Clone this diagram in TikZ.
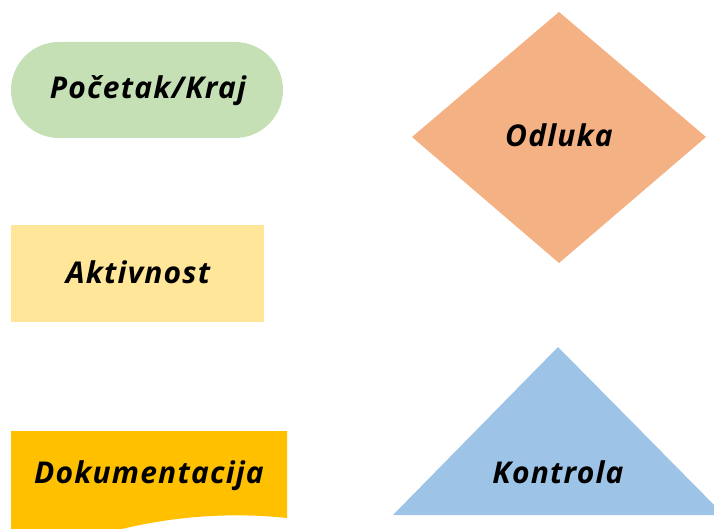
\documentclass[tikz,border=0pt]{standalone}
\usepackage{fontspec}
\setsansfont[LetterSpace=4]{Open Sans}
\usepackage{tikz}
\usetikzlibrary{positioning}
\definecolor{startgreen}{HTML}{C5E0B4}
\definecolor{actyellow}{HTML}{FFE699}
\definecolor{docgold}{HTML}{FFC000}
\definecolor{decorange}{HTML}{F4B183}
\definecolor{ctrlblue}{HTML}{9DC3E6}
\tikzset{
  shapefill/.style={fill=#1,draw=none},
  label/.style={font=\sffamily\bfseries\itshape\fontsize{30}{34}\selectfont,inner sep=0pt,anchor=base}
}

\begin{document}
\begin{tikzpicture}[x=1pt,y=-1pt]
\clip (0,0) rectangle (714,529);
% shapes
\fill[shapefill=startgreen,rounded corners=48] (11,42) rectangle (283,138);
\fill[shapefill=actyellow] (11,225) rectangle (264,322);
\fill[shapefill=docgold] (11,431) -- (287,431) -- (287,518)
  .. controls (230,512) and (170,516) .. (110,532) -- (11,540) -- cycle;
\fill[shapefill=decorange] (559,12) -- (706,137) -- (559,263) -- (412,137) -- cycle;
\fill[shapefill=ctrlblue] (558,347) -- (724,515) -- (393,515) -- cycle;
% texts
\node[label] (start) at (148,99) {Početak/Kraj};
\node[label] (act) at (138,283) {Aktivnost};
\node[label] (doc) at (149,483) {Dokumentacija};
\node[label] (dec) at (559,147) {Odluka};
\node[label] (ctrl) at (558,483) {Kontrola};
\end{tikzpicture}
\end{document}
